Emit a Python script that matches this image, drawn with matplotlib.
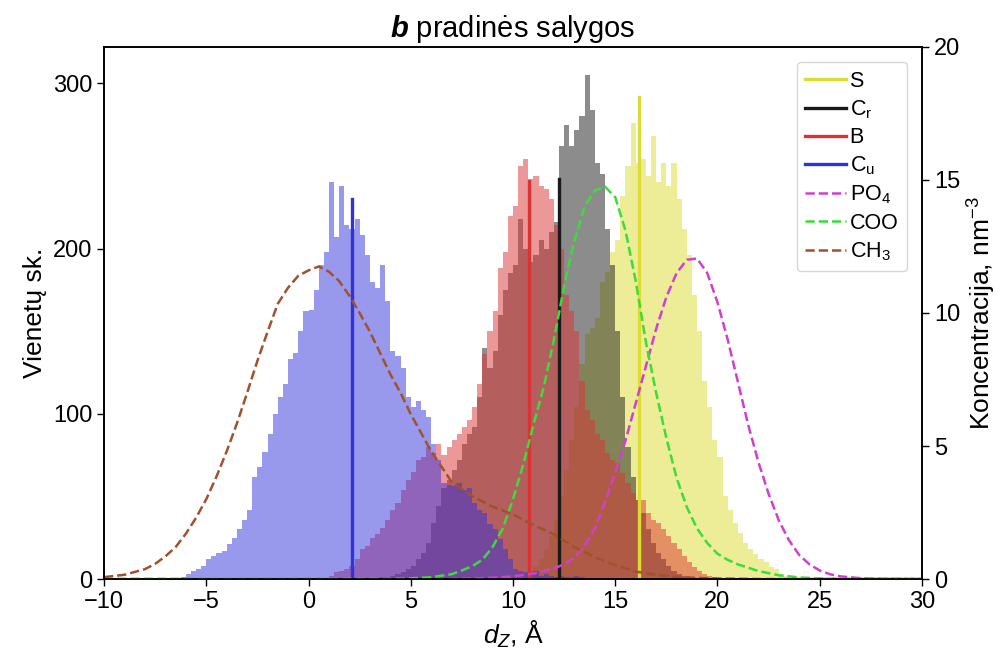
import matplotlib.pyplot as plt
import numpy as np

plt.rcParams['font.family'] = ['Liberation Sans', 'DejaVu Sans']
plt.rcParams['mathtext.fontset'] = 'custom'
plt.rcParams['mathtext.rm'] = 'Liberation Sans'
plt.rcParams['mathtext.it'] = 'Liberation Sans:italic'
plt.rcParams['mathtext.bf'] = 'Liberation Sans:italic:bold'

# histogramos: 0.25 A pločio intervalai, pradžia + skaičiai
bin_w = 0.25

cu_start = -6.25
cu_counts = [1, 3, 5, 6, 8, 12, 14, 16, 17, 21, 25, 30, 36, 42, 62, 68, 77, 88,
             100, 110, 118, 133, 137, 150, 162, 163, 175, 190, 198, 240, 207, 238,
             214, 212, 218, 208, 196, 180, 176, 190, 168, 138, 135, 128, 110, 104,
             108, 102, 98, 82, 72, 58, 57, 56, 58, 54, 55, 46, 42, 40, 33, 30, 24,
             18, 12, 6, 5, 4, 3, 5, 2, 3, 2, 1, 2, 1, 1, 2, 1]

b_start = 1.0
b_counts = [2, 4, 5, 6, 8, 12, 18, 20, 25, 27, 31, 36, 42, 46, 54, 60, 65, 72,
            74, 80, 76, 82, 75, 80, 84, 88, 92, 96, 104, 118, 136, 150, 162, 188,
            198, 220, 226, 250, 254, 242, 244, 238, 236, 230, 214, 200, 172, 162,
            150, 120, 102, 96, 88, 84, 76, 72, 70, 64, 58, 52, 48, 48, 40, 36, 34,
            30, 26, 22, 18, 14, 10, 7, 5, 3, 2, 1]

cr_start = 3.5
cr_counts = [1, 1, 2, 3, 4, 6, 8, 12, 16, 22, 34, 44, 55, 60, 66, 72, 82, 88,
             92, 110, 140, 128, 138, 160, 175, 185, 190, 218, 200, 192, 196, 205,
             200, 210, 216, 262, 275, 262, 272, 280, 305, 284, 252, 245, 212, 190,
             150, 110, 80, 62, 48, 40, 30, 22, 16, 12, 8, 5, 3, 2, 1]

s_start = 10.0
s_counts = [1, 2, 3, 5, 8, 12, 18, 26, 36, 50, 66, 84, 104, 130, 148, 152, 158,
            180, 186, 198, 205, 232, 250, 276, 252, 254, 244, 268, 240, 252, 238,
            252, 230, 212, 196, 172, 150, 120, 104, 84, 74, 50, 42, 34, 28, 22, 18,
            15, 12, 10, 7, 6, 3, 2, 1]

# vidurkių linijos
mean_pos = {'S': 16.16, 'Cr': 12.25, 'B': 10.78, 'Cu': 2.15}
mean_h = {'S': 292, 'Cr': 242, 'B': 241, 'Cu': 230}

# koncentracijų profiliai, nm^-3
ch3_x = [-10, -9, -8, -7.5, -7, -6.5, -6, -5.5, -5, -4.5, -4, -3.5, -3, -2.5,
         -2, -1.5, -1, -0.5, 0, 0.5, 1, 1.5, 2, 2.5, 3, 3.5, 4, 4.5, 5, 5.5, 6,
         7, 8, 9, 10, 11, 12, 13, 14, 15, 16, 17, 18, 19, 20, 21, 22, 30]
ch3_y = [0.07, 0.16, 0.37, 0.57, 0.85, 1.2, 1.7, 2.3, 3.0, 3.85, 4.8, 5.85, 7.0,
         8.2, 9.3, 10.35, 10.95, 11.4, 11.6, 11.75, 11.55, 11.2, 10.65, 10.0,
         9.3, 8.5, 7.7, 7.0, 6.2, 5.5, 4.8, 3.65, 3.12, 2.72, 2.43, 2.03, 1.68,
         1.2, 0.82, 0.52, 0.28, 0.15, 0.08, 0.04, 0.02, 0.01, 0.0, 0.0]

coo_x = [-10, 4, 5, 6, 7, 7.5, 8, 8.5, 9, 9.5, 10, 10.5, 11, 11.5, 12, 12.5, 13,
         13.5, 14, 14.5, 15, 15.5, 16, 16.5, 17, 17.5, 18, 18.5, 19, 19.5, 20,
         20.5, 21, 22, 23, 24, 25, 26, 30]
coo_y = [0, 0, 0.02, 0.07, 0.18, 0.32, 0.48, 0.72, 1.2, 1.9, 3.0, 4.3, 5.8, 7.2,
         9.0, 11.0, 12.7, 14.0, 14.6, 14.75, 14.35, 13.1, 11.2, 8.9, 7.0, 5.3,
         3.8, 2.7, 1.9, 1.35, 0.95, 0.72, 0.55, 0.3, 0.14, 0.06, 0.02, 0, 0]

po4_x = [-10, 7, 8, 9, 10, 11, 12, 12.5, 13, 13.5, 14, 14.5, 15, 15.5, 16, 16.5,
         17, 17.5, 18, 18.5, 19, 19.5, 20, 20.5, 21, 21.5, 22, 22.5, 23, 23.5,
         24, 24.5, 25, 25.5, 26, 27, 28, 30]
po4_y = [0, 0, 0.02, 0.05, 0.1, 0.2, 0.4, 0.55, 0.8, 1.25, 1.9, 2.9, 4.0, 5.2,
         6.6, 8.0, 9.4, 10.6, 11.5, 12.0, 12.05, 11.5, 10.4, 9.0, 7.4, 5.8, 4.4,
         3.2, 2.2, 1.45, 0.9, 0.55, 0.32, 0.18, 0.1, 0.03, 0.01, 0]

spalvos = {'S': '#dcdc32', 'Cr': '#1a1a1a', 'B': '#dc3232', 'Cu': '#3232dc'}
zymes = {'S': 'S', 'Cr': r'C$_\mathrm{r}$', 'B': 'B', 'Cu': r'C$_\mathrm{u}$'}
duomenys = {'S': (s_start, s_counts), 'Cr': (cr_start, cr_counts),
            'B': (b_start, b_counts), 'Cu': (cu_start, cu_counts)}

fig, ax = plt.subplots(figsize=(10.05, 6.57), dpi=100)
fig.subplots_adjust(left=0.1035, right=0.9174, top=0.9285, bottom=0.1187)

handles = []
for k in ['S', 'Cr', 'B', 'Cu']:
    start, counts = duomenys[k]
    edges = start + bin_w * np.arange(len(counts) + 1)
    ax.hist(edges[:-1], bins=edges, weights=counts, color=spalvos[k], alpha=0.5)
    ln, = ax.plot([mean_pos[k], mean_pos[k]], [0, mean_h[k]], color=spalvos[k],
                  lw=2.4, label=zymes[k])
    handles.append(ln)

ax.set_xlim(-10, 30)
ax.set_ylim(0, 322)
ax.set_yticks([0, 100, 200, 300])
ax.set_xlabel(r'$d_Z$, Å', fontsize=19)
ax.set_ylabel('Vienetų sk.', fontsize=19)
ax.set_title(r'$\mathbf{b}$ pradinės salygos', fontsize=21, pad=7)

ax2 = ax.twinx()
l1, = ax2.plot(po4_x, po4_y, '--', color='#d040d0', lw=1.8, label=r'PO$_4$')
l2, = ax2.plot(coo_x, coo_y, '--', color='#3cdc3c', lw=1.8, label='COO')
l3, = ax2.plot(ch3_x, ch3_y, '--', color='#a0522d', lw=1.8, label=r'CH$_3$')
handles += [l1, l2, l3]
ax2.set_ylim(0, 20)
ax2.set_yticks([0, 5, 10, 15, 20])
ax2.set_ylabel(r'Koncentracija, nm$^{-3}$', fontsize=19)

for a in (ax, ax2):
    a.tick_params(labelsize=17, length=5, width=1)
    for s in a.spines.values():
        s.set_linewidth(1.2)

ax2.legend(handles=handles, loc='upper right', fontsize=15.5, handlelength=1.9,
           handletextpad=0.15, labelspacing=0.3, borderaxespad=0.7)

plt.savefig('out.png', dpi=100)
